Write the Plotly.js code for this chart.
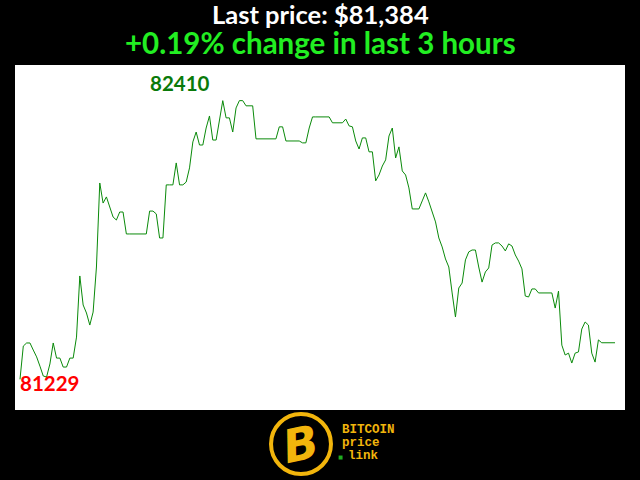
<!DOCTYPE html>
<html>
<head>
<meta charset="utf-8">
<script src="https://cdn.plot.ly/plotly-3.0.1.min.js"></script>
<style>html,body{margin:0;padding:0;background:#000;}#chart{width:640px;height:480px;}</style>
</head>
<body>
<div id="chart"></div>
<script>
// Bitcoin price, one value per minute over the last 3 hours (USD)
var prices = [
  81229, 81370, 81383, 81383, 81353, 81324, 81285, 81243, 81239, 81294,
  81383, 81319, 81319, 81281, 81281, 81319, 81319, 81408, 81667, 81544,
  81510, 81459, 81514, 81705, 82061, 81976, 82002, 81959, 81917, 81904,
  81938, 81938, 81845, 81845, 81845, 81845, 81845, 81845, 81845, 81942,
  81942, 81930, 81828, 81828, 82053, 82053, 82053, 82146, 82053, 82053,
  82065, 82125, 82235, 82277, 82222, 82222, 82294, 82345, 82243, 82243,
  82328, 82410, 82337, 82337, 82277, 82379, 82410, 82410, 82388, 82388,
  82388, 82248, 82248, 82248, 82248, 82248, 82248, 82248, 82299, 82299,
  82239, 82239, 82239, 82239, 82239, 82231, 82231, 82294, 82341, 82341,
  82341, 82341, 82341, 82341, 82316, 82316, 82316, 82316, 82332, 82303,
  82299, 82239, 82205, 82252, 82252, 82193, 82193, 82070, 82095, 82133,
  82159, 82260, 82294, 82167, 82214, 82112, 82095, 82040, 81951, 81951,
  81951, 81985, 82019, 81981, 81938, 81896, 81828, 81790, 81739, 81705,
  81595, 81493, 81616, 81637, 81735, 81769, 81777, 81777, 81705, 81641,
  81684, 81701, 81798, 81807, 81807, 81794, 81773, 81803, 81794, 81756,
  81730, 81697, 81582, 81578, 81612, 81612, 81595, 81595, 81595, 81595,
  81595, 81531, 81603, 81374, 81332, 81340, 81298, 81340, 81345, 81442,
  81472, 81459, 81340, 81302, 81396, 81384, 81384, 81384, 81384, 81384
];
var minutes = prices.map(function (p, i) { return i; });

var titleLine1 = "Last price: $81,384";
var titleLine2 = "+0.19% change in last 3 hours";
var maxLabel = "82410";
var minLabel = "81229";
var logoWords = ["BITCOIN", "price", "link"];

var gold = "#f2b50c";

var trace = {
  x: minutes,
  y: prices,
  type: "scatter",
  mode: "lines",
  line: { color: "#0a8a0a", width: 1 },
  hoverinfo: "skip"
};

var layout = {
  width: 640,
  height: 480,
  paper_bgcolor: "#000000",
  plot_bgcolor: "#ffffff",
  margin: { l: 15, r: 15, t: 65, b: 70, pad: 0 },
  showlegend: false,
  xaxis: { range: [-1.5, 182], visible: false, fixedrange: true },
  yaxis: { range: [81099, 82561], visible: false, fixedrange: true },
  shapes: [
    { type: "circle", xref: "paper", yref: "paper",
      x0: 0.4197, x1: 0.5180, y0: -0.1855, y1: -0.0116,
      line: { color: gold, width: 4 }, fillcolor: "#000000" },
    { type: "rect", xref: "paper", yref: "paper",
      x0: 0.5305, x1: 0.5370, y0: -0.1436, y1: -0.1320,
      line: { width: 0 }, fillcolor: "#1fae1f" }
  ],
  annotations: [
    { text: "<b>" + titleLine1 + "</b>", xref: "paper", yref: "paper", x: 0.5, y: 1.148,
      xanchor: "center", yanchor: "middle", showarrow: false,
      font: { family: "Lato, 'Open Sans', sans-serif", size: 25.5, color: "#ffffff" } },
    { text: "<b>" + titleLine2 + "</b>", xref: "paper", yref: "paper", x: 0.5, y: 1.066,
      xanchor: "center", yanchor: "middle", showarrow: false,
      font: { family: "Lato, 'Open Sans', sans-serif", size: 29.5, color: "#22ee22" } },
    { text: "<b>" + maxLabel + "</b>", xref: "x", yref: "y", x: 48.2, y: 82485,
      xanchor: "center", yanchor: "middle", showarrow: false,
      font: { family: "Lato, 'Open Sans', sans-serif", size: 20.5, color: "#0a7a0a" } },
    { text: "<b>" + minLabel + "</b>", xref: "x", yref: "y", x: 8.9, y: 81213,
      xanchor: "center", yanchor: "middle", showarrow: false,
      font: { family: "Lato, 'Open Sans', sans-serif", size: 20.5, color: "#ff0000" } },
    { text: "<b><i>B</i></b>", xref: "paper", yref: "paper", x: 0.4688, y: -0.0986,
      xanchor: "center", yanchor: "middle", showarrow: false, textangle: -12,
      font: { family: "'DejaVu Sans', sans-serif", size: 46, color: gold } },
    { text: "<b>" + logoWords[0] + "</b>", xref: "paper", yref: "paper", x: 0.5328, y: -0.0580,
      xanchor: "left", yanchor: "middle", showarrow: false,
      font: { family: "'Liberation Mono', 'DejaVu Sans Mono', monospace", size: 12.5, color: gold } },
    { text: "<b>" + logoWords[1] + "</b>", xref: "paper", yref: "paper", x: 0.5328, y: -0.0956,
      xanchor: "left", yanchor: "middle", showarrow: false,
      font: { family: "'Liberation Mono', 'DejaVu Sans Mono', monospace", size: 12.5, color: gold } },
    { text: "<b>" + logoWords[2] + "</b>", xref: "paper", yref: "paper", x: 0.5430, y: -0.1333,
      xanchor: "left", yanchor: "middle", showarrow: false,
      font: { family: "'Liberation Mono', 'DejaVu Sans Mono', monospace", size: 12.5, color: gold } }
  ]
};

Plotly.newPlot("chart", [trace], layout, { displayModeBar: false, staticPlot: true });
</script>
</body>
</html>
